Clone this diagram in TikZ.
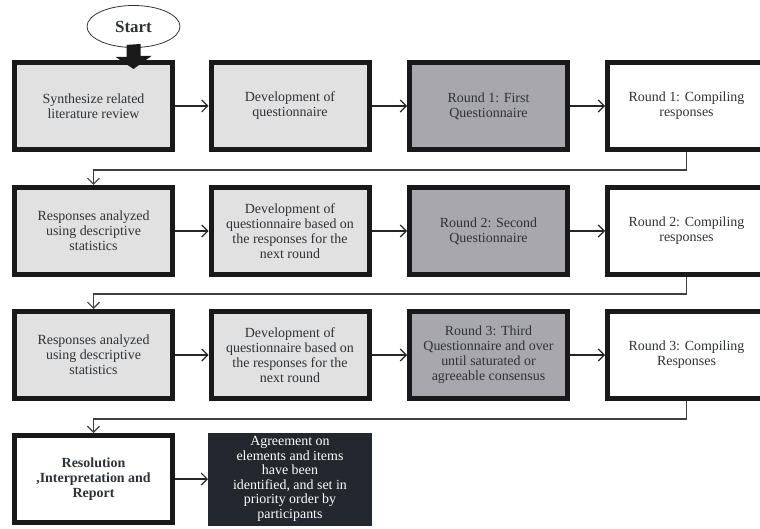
\documentclass[tikz,border=0pt]{standalone}
\usepackage{fontspec}
\setmainfont{Liberation Serif}
\usetikzlibrary{arrows.meta,shapes.geometric}
\definecolor{lightbox}{HTML}{E1E1E1}
\definecolor{midbox}{HTML}{A7A7AD}
\definecolor{darkbox}{HTML}{23272E}
\definecolor{txt}{HTML}{2E3236}
\tikzset{
  stepbox/.style={draw=black!90, line width=5bp, minimum width=158bp, minimum height=87bp,
    align=center, text=txt, font=\fontsize{14}{15}\selectfont, inner sep=0pt},
  lbox/.style={stepbox, fill=lightbox},
  mbox/.style={stepbox, fill=midbox},
  wbox/.style={stepbox, fill=white},
  dbox/.style={stepbox, fill=darkbox, draw=darkbox, line width=1bp, minimum width=163bp, minimum height=92bp, text=white,
    font=\fontsize{14}{14.6}\selectfont},
  flow/.style={draw=black!85, line width=1.1bp, -{Straight Barb[length=6bp,width=12bp,line width=1.1bp]}},
  link/.style={draw=black!75, line width=1.3bp, -{Straight Barb[length=6bp,width=12bp,line width=1.1bp]}},
}
\begin{document}
\begin{tikzpicture}[x=1bp,y=-1bp]
\useasboundingbox (0,0) rectangle (760,529);
\clip (0,0) rectangle (760,529);
% start
\node[draw=black!80, line width=0.8bp, ellipse, minimum width=93bp, minimum height=42bp, inner sep=0pt,
  font=\bfseries\fontsize{17}{18}\selectfont, text=txt] (start) at (133.5,26.5) {Start};
% row 1
\node[lbox] (b11) at (93.5,106) {Synthesize related\\literature review};
\node[lbox] (b12) at (290,106) {Development of\\questionnaire};
\node[mbox] (b13) at (488.5,106) {Round 1: First\\Questionnaire};
\node[wbox] (b14) at (686.5,106) {Round 1: Compiling\\responses};
% block arrow from start
\fill[black!90] (start.south) ++(-7,-3) -- ++(0,12) -- ++(-11,0) -- (133.5,69) -- (151.5,56) -- ++(-11,0) -- ++(0,-12) -- cycle;
% row 2
\node[lbox] (b21) at (93.5,231) {Responses analyzed\\using descriptive\\statistics};
\node[lbox] (b22) at (290,231) {Development of\\questionnaire based on\\the responses for the\\next round};
\node[mbox] (b23) at (488.5,231) {Round 2: Second\\Questionnaire};
\node[wbox] (b24) at (686.5,231) {Round 2: Compiling\\responses};
% row 3
\node[lbox] (b31) at (93.5,355) {Responses analyzed\\using descriptive\\statistics};
\node[lbox] (b32) at (290,355) {Development of\\questionnaire based on\\the responses for the\\next round};
\node[mbox] (b33) at (488.5,355) {Round 3: Third\\Questionnaire and over\\until saturated or\\agreeable consensus};
\node[wbox] (b34) at (686.5,355) {Round 3: Compiling\\Responses};
% row 4
\node[wbox, font=\bfseries\fontsize{14}{15}\selectfont] (b41) at (93.5,479) {Resolution\\,Interpretation and\\Report};
\node[dbox] (b42) at (290,479) {Agreement on\\elements and items\\have been\\identified, and set in\\priority order by\\participants};
% horizontal arrows
\foreach \r in {1,2,3}{
  \draw[flow] (b\r1) -- (b\r2);
  \draw[flow] (b\r2) -- (b\r3);
  \draw[flow] (b\r3) -- (b\r4);
}
\draw[flow] (b41) -- (b42);
% row links
\draw[link] (b14.south) -- ++(0,18) -| (b21.north);
\draw[link] (b24.south) -- ++(0,17) -| (b31.north);
\draw[link] (b34.south) -- ++(0,18) -| (b41.north);
\end{tikzpicture}
\end{document}
